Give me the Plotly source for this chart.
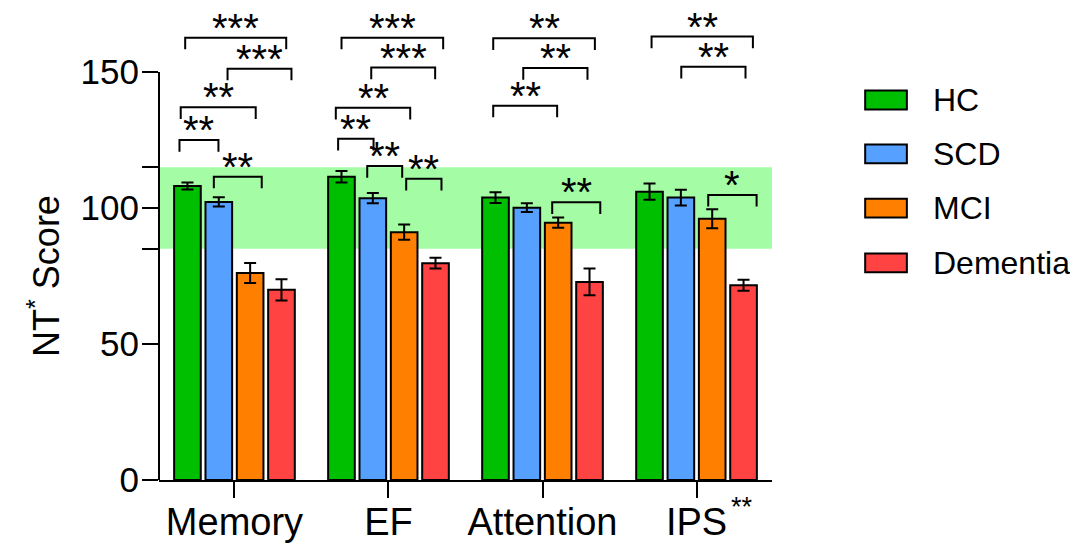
import plotly.graph_objects as go

# ---------------- data ----------------
categories = ["Memory", "EF", "Attention", "IPS"]
tick_labels = ["Memory", "EF", "Attention", "IPS"]
tick_label_marks = ["", "", "", "**"]   # superscript significance marks after labels
groups = ["HC", "SCD", "MCI", "Dementia"]

hc_mean = [108.1, 111.5, 103.8, 106.0]
hc_err = [1.3, 2.1, 2.0, 3.0]
scd_mean = [102.2, 103.6, 100.1, 103.8]
scd_err = [1.7, 1.9, 1.6, 2.9]
mci_mean = [76.1, 91.1, 94.6, 96.0]
mci_err = [3.7, 2.8, 1.9, 3.5]
dem_mean = [69.9, 79.7, 72.8, 71.6]
dem_err = [3.9, 2.0, 4.9, 2.0]

normal_low, normal_high = 85, 115
y_ticks = [0, 50, 100, 150]
y_tick_text = ["0", "50", "100", "150"]
y_title = "NT<sup>*</sup> Score"

# significance brackets: (category index, left offset, right offset, level, label)
sig_brackets = [
    (0, -0.357, -0.104, 125.0, "**"),
    (0, -0.349, 0.138, 137.0, "**"),
    (0, -0.134, 0.177, 111.5, "**"),
    (0, -0.045, 0.370, 151.2, "***"),
    (0, -0.320, 0.336, 162.6, "***"),
    (1, -0.327, -0.097, 125.4, "**"),
    (1, -0.342, 0.141, 136.8, "**"),
    (1, -0.138, 0.089, 115.4, "**"),
    (1, 0.115, 0.344, 110.7, "**"),
    (1, -0.112, 0.303, 151.6, "***"),
    (1, -0.305, 0.355, 162.6, "***"),
    (2, -0.320, 0.095, 137.6, "**"),
    (2, -0.125, 0.292, 151.4, "**"),
    (2, -0.320, 0.340, 162.4, "**"),
    (2, 0.063, 0.375, 102.1, "**"),
    (3, -0.292, 0.366, 163.0, "**"),
    (3, -0.099, 0.318, 151.9, "**"),
    (3, 0.076, 0.390, 104.8, "*"),
]

# ---------------- styles ----------------
colors = ["#00BE00", "#56A0FF", "#FF8000", "#FF4343"]
band_color = "#A4FCA4"
FONT = "Liberation Sans, Arial, sans-serif"
LEG = 4.3  # bracket leg length in data units

means = [hc_mean, scd_mean, mci_mean, dem_mean]
errs = [hc_err, scd_err, mci_err, dem_err]
xpos = list(range(len(categories)))

fig = go.Figure()
for name, m, e, c in zip(groups, means, errs, colors):
    fig.add_trace(go.Bar(
        x=xpos, y=m, name=name,
        marker=dict(color=c, line=dict(color="black", width=2)),
        error_y=dict(type="data", array=e, visible=True, color="black",
                     thickness=2, width=6),
        showlegend=False,
    ))

shapes = []
# normal range band
shapes.append(dict(type="rect", xref="x domain", yref="y", x0=0, x1=1,
                   y0=normal_low, y1=normal_high, fillcolor=band_color,
                   line=dict(width=0), layer="below"))
# y axis line (0..150 only)
shapes.append(dict(type="line", xref="x domain", yref="y", x0=0, x1=0,
                   y0=y_ticks[0], y1=y_ticks[-1], line=dict(color="black", width=2)))

annotations = []
for ci, a, b, lvl, lab in sig_brackets:
    x0, x1 = ci + a, ci + b
    shapes.append(dict(type="path", xref="x", yref="y",
                       path=f"M {x0},{lvl - LEG} L {x0},{lvl} L {x1},{lvl} L {x1},{lvl - LEG}",
                       line=dict(color="black", width=2)))
    annotations.append(dict(x=(x0 + x1) / 2, y=lvl, xref="x", yref="y",
                            text=lab, showarrow=False, yanchor="bottom",
                            yshift=-14,
                            font=dict(family=FONT, size=40, color="black")))

# superscript marks next to category labels
for xi, mark in zip(xpos, tick_label_marks):
    if mark:
        annotations.append(dict(x=xi, y=0, xref="x", yref="y", text=mark,
                                showarrow=False, xanchor="left",
                                yanchor="middle", xshift=32, yshift=-27,
                                font=dict(family=FONT, size=27, color="black")))

# y axis title, centred on the drawn axis line (0..150)
annotations.append(dict(x=0, y=(y_ticks[0] + y_ticks[-1]) / 2,
                        xref="paper", yref="y", text=y_title,
                        textangle=-90, showarrow=False,
                        xanchor="center", yanchor="middle", xshift=-115,
                        font=dict(family=FONT, size=36, color="black")))

# custom legend (swatch + label)
leg_y = [0.805, 0.691, 0.576, 0.460]
for name, c, yc in zip(groups, colors, leg_y):
    shapes.append(dict(type="rect", xref="paper", yref="paper",
                       x0=1.152, x1=1.220, y0=yc - 0.020, y1=yc + 0.020,
                       fillcolor=c, line=dict(color="black", width=2)))
    annotations.append(dict(x=1.260, y=yc, xref="paper", yref="paper",
                            text=name, showarrow=False, xanchor="left",
                            yanchor="middle",
                            font=dict(family=FONT, size=32, color="black")))

fig.update_layout(
    width=1070, height=535,
    margin=dict(l=151, r=306, t=0, b=63),
    paper_bgcolor="white", plot_bgcolor="white",
    barmode="group", bargap=0.186, bargroupgap=0.15,
    font=dict(family=FONT, color="black"),
    shapes=shapes, annotations=annotations,
    xaxis=dict(range=[-0.49, 3.49], tickvals=xpos, ticktext=tick_labels,
               automargin=False,
               showline=True, linecolor="black", linewidth=2,
               ticks="outside", ticklen=16, tickwidth=2, tickcolor="black",
               ticklabelstandoff=-9,
               showgrid=False, zeroline=False,
               tickfont=dict(family=FONT, size=38, color="black")),
    yaxis=dict(range=[0, 173.5], tickvals=y_ticks, ticktext=y_tick_text,
               automargin=False,
               showline=False, ticks="outside", ticklen=16, tickwidth=2,
               tickcolor="black", showgrid=False, zeroline=False,
               ticklabelstandoff=-4,
               minor=dict(tickmode="array", tickvals=[normal_low, normal_high],
                          ticks="outside", ticklen=16, tickwidth=2,
                          tickcolor="black", showgrid=False),
               tickfont=dict(family=FONT, size=35, color="black")),
)

fig.write_html("out.html")
